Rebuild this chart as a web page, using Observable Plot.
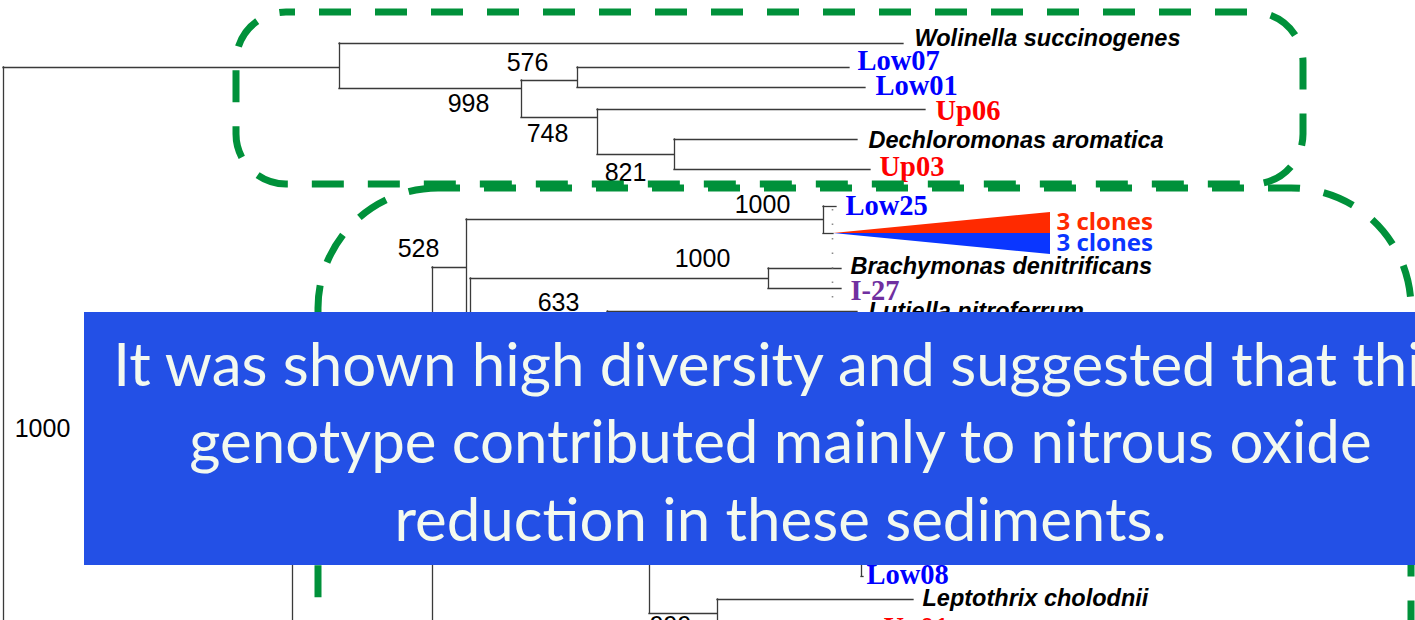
<!DOCTYPE html>
<html><head><meta charset="utf-8">
<script src="https://cdn.jsdelivr.net/npm/d3@7"></script>
<script src="https://cdn.jsdelivr.net/npm/@observablehq/plot@0.6"></script>
<style>html,body{margin:0;padding:0;background:#fff;overflow:hidden;} #chart svg{display:block;overflow:hidden;}</style>
</head><body><div id="chart"></div>
<script>
// ---- Tree (x = distance from root, y = row) ----
const nodeIds    = ["root","T","Wol","A","B","Low07","Low01","C","Up06","D","Dech","Up03",
                    "L0","L0off","L1","L1off","E","F","Low25","Clade","G","H","Brachy","I27","K","Lut","Kleaf","Gleaf",
                    "M","N","Nleaf","Low08","O","Lepto","Up01"];
const nodeParent = [null,"root","T","T","A","B","B","A","C","C","D","D",
                    "root","L0","L0","L1","L1","E","F","F","E","G","H","H","G","K","K","G",
                    "L1","M","N","N","M","O","O"];
const nodeX      = [3,339,903,521,577,849,865,597,925,674,857,870,
                    292,380,432,500,466,823,836,833,470,768,841,841,607,857,840,800,
                    649,861,863,863,717,913,875];
const nodeY      = [380,67,43,88,80,67,87,117,109,154,139,169,
                    700,1000,400,800,267,219,206,233,390,278,268,288,322,311,340,480,
                    560,545,530,576,613,599,632];

// ---- Tip labels ----
const labelText = ["Wolinella succinogenes","Low07","Low01","Up06","Dechloromonas aromatica","Up03",
                   "Low25","Brachymonas denitrificans","I-27","Lutiella nitroferrum","Low08","Leptothrix cholodnii","Up01"];
const labelKind = ["species","low","low","up","species","up","low","species","iso","species","low","species","up"];
const labelX    = [914,857,875,935,868,879,845,850,850,868,866,922,883];
const labelY    = [38,60,85,110,140,166,205,266,290,311,574,598,627];

// ---- Bootstrap values ----
const bootText = ["576","998","748","821","1000","528","1000","633","1000","999"];
const bootX    = [527,468,547,625,762,418,702,558,42,670];
const bootY    = [62,103,133,172,204,248,258,302,428,625];

// ---- Collapsed clade (Low25 group) ----
const cladeApex   = "Clade";
const cladeEnd    = 1050;
const cladeLabels = ["3 clones","3 clones"];
const cladeColors = ["#ff2a00","#0a36ff"];
const cladeSpread = [-21, 21];

// ---- Dashed group outlines ----
const groupX1 = [236, 318];
const groupX2 = [1303, 1411];
const groupY1 = [12, 188];
const groupY2 = [184, 1000];

// ---- Overlay caption ----
const captionLines = ["It was shown high diversity and suggested that this",
                      "genotype contributed mainly to nitrous oxide",
                      "reduction in these sediments."];
const captionRows  = [385, 462, 540];

// ---- Build tree geometry ----
const nodes = nodeIds.map((id,i)=>({id, parent:nodeParent[i], x:nodeX[i], y:nodeY[i]}));
const byId = new Map(nodes.map(n=>[n.id,n]));
const hSegs = nodes.filter(n=>n.parent).map(n=>({x1:byId.get(n.parent).x, x2:n.x, y:n.y}));
const vSegs = d3.groups(nodes.filter(n=>n.parent), n=>n.parent)
  .map(([p,kids])=>({x:byId.get(p).x, y1:d3.min(kids,k=>k.y), y2:d3.max(kids,k=>k.y)}));

const labels = labelText.map((t,i)=>({t, kind:labelKind[i], x:labelX[i], y:labelY[i]}));
const boots = bootText.map((t,i)=>({t, x:bootX[i], y:bootY[i]}));
const apex = byId.get(cladeApex);
const cladeTri = cladeSpread.map((s,i)=>[
  {k:i, x:apex.x, y1:apex.y, y2:apex.y},
  {k:i, x:cladeEnd, y1:apex.y, y2:apex.y+s}
]);
const cladeText = cladeLabels.map((t,i)=>({t, x:cladeEnd, y:apex.y + cladeSpread[i]/2 - 1, c:cladeColors[i]}));
const groups = groupX1.map((x,i)=>({x1:x, x2:groupX2[i], y1:groupY1[i], y2:groupY2[i]}));
const caption = captionLines.map((t,i)=>({t, y:captionRows[i]}));

const kindStyle = {
  species:{fill:"#000", fontFamily:"Liberation Sans", fontWeight:"bold", fontStyle:"italic", fontSize:23.5},
  low:{fill:"#0000ff", fontFamily:"Liberation Serif", fontWeight:"bold", fontSize:28.5},
  up:{fill:"#ff0000", fontFamily:"Liberation Serif", fontWeight:"bold", fontSize:28.5},
  iso:{fill:"#7030a0", fontFamily:"Liberation Serif", fontWeight:"bold", fontSize:28.5}
};

const chart = Plot.plot({
  width:1415, height:620,
  margin:0,
  x:{domain:[0,1415], range:[0,1415], axis:null},
  y:{domain:[0,620], range:[0,620], axis:null},
  style:{background:"#fff"},
  marks:[
    Plot.ruleY(hSegs, {y:"y", x1:"x1", x2:"x2", stroke:"#3a3a3a", strokeWidth:1.3, strokeLinecap:"square"}),
    Plot.ruleX(vSegs, {x:"x", y1:"y1", y2:"y2", stroke:"#3a3a3a", strokeWidth:1.3, strokeLinecap:"square"}),
    Plot.ruleX([832], {x:d=>d, y1:209, y2:306, stroke:"#8a8a8a", strokeWidth:1.6, strokeDasharray:"1.5,13"}),
    ...cladeTri.map((tri,i)=>Plot.areaY(tri, {x:"x", y1:"y1", y2:"y2", fill:cladeColors[i]})),
    Plot.text(cladeText, {x:"x", y:"y", text:"t", fill:"c", dx:6, textAnchor:"start", lineAnchor:"middle",
      fontFamily:"Open Sans", fontWeight:"bold", fontSize:24}),
    ...Object.entries(kindStyle).map(([k,s])=>Plot.text(labels.filter(d=>d.kind===k),
      {x:"x", y:"y", text:"t", textAnchor:"start", lineAnchor:"middle", ...s})),
    Plot.text(boots, {x:"x", y:"y", text:"t", textAnchor:"middle", lineAnchor:"middle",
      fontFamily:"Liberation Sans", fontSize:25, fill:"#000"}),
    Plot.rect(groups.slice(0,1), {x1:"x1", x2:"x2", y1:"y1", y2:"y2", rx:50, fill:"none",
      stroke:"#00913a", strokeWidth:7, strokeDasharray:"32,24", strokeDashoffset:23}),
    Plot.rect(groups.slice(1), {x1:"x1", x2:"x2", y1:"y1", y2:"y2", rx:120, fill:"none",
      stroke:"#00913a", strokeWidth:7, strokeDasharray:"32,24", strokeDashoffset:10}),
    Plot.rect([0], {x1:84, x2:1520, y1:312, y2:565, fill:"#2350e6"}),
    Plot.text(caption, {x:780, y:"y", text:"t", textAnchor:"middle", lineAnchor:"bottom",
      fontFamily:"Lato", fontSize:60, fill:"#f3f9ef"})
  ]
});
document.getElementById("chart").appendChild(chart);
</script>
</body></html>
